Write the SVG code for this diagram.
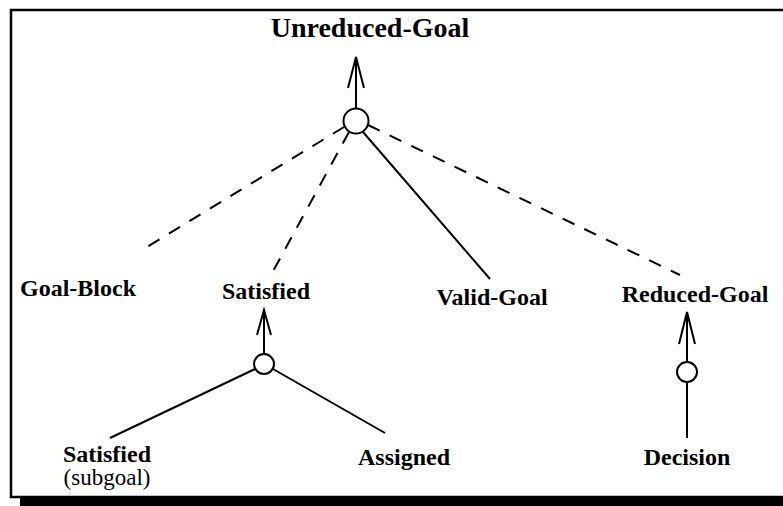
<svg xmlns="http://www.w3.org/2000/svg" width="783" height="506" viewBox="0 0 783 506">
  <style>
    .lbl { font-family: "Liberation Serif", "Times New Roman", serif; font-weight: bold; font-size: 24px; text-anchor: middle; fill: #000; }
    .title { font-size: 28px; }
    .note { font-family: "Liberation Serif", "Times New Roman", serif; font-weight: normal; font-size: 23px; text-anchor: middle; fill: #000; }
    .ln { stroke: #000; stroke-width: 2; fill: none; }
    .dash { stroke-dasharray: 13 11; }
    .node { stroke: #000; stroke-width: 2; fill: #fff; }
  </style>

  <!-- frame with drop shadow -->
  <rect x="0" y="0" width="783" height="506" fill="#fff"/>
  <rect x="20" y="498" width="770" height="10" fill="#000"/>
  <rect x="11" y="10" width="790" height="487" fill="none" stroke="#000" stroke-width="2.5"/>

  <g id="connectors">
    <!-- top junction -->
    <line class="ln" x1="356" y1="108" x2="356" y2="57"/>
    <polyline class="ln" points="348,88 356,57 364,88"/>
    <line class="ln dash" x1="344" y1="127" x2="142" y2="250"/>
    <line class="ln dash" x1="349" y1="132" x2="271" y2="275"/>
    <line class="ln" x1="363" y1="132" x2="490" y2="279"/>
    <line class="ln dash" x1="368" y1="125" x2="680" y2="275"/>

    <!-- satisfied junction -->
    <line class="ln" x1="264" y1="354" x2="264" y2="310"/>
    <polyline class="ln" points="257,335 264,310 271,335"/>
    <line class="ln" x1="255" y1="369" x2="110" y2="438"/>
    <line class="ln" x1="273" y1="369" x2="385" y2="433"/>

    <!-- reduced-goal junction -->
    <line class="ln" x1="687" y1="362" x2="687" y2="312"/>
    <polyline class="ln" points="679,344 687,312 695,344"/>
    <line class="ln" x1="687" y1="383" x2="687" y2="438"/>
  </g>

  <g id="n-unreduced-goal"><text class="lbl title" x="370" y="37">Unreduced-Goal</text></g>
  <g id="j-top"><circle class="node" cx="356" cy="121" r="12.5"/></g>
  <g id="n-goal-block"><text class="lbl" x="78" y="296">Goal-Block</text></g>
  <g id="n-satisfied"><text class="lbl" x="266" y="299">Satisfied</text></g>
  <g id="n-valid-goal"><text class="lbl" x="492" y="305">Valid-Goal</text></g>
  <g id="n-reduced-goal"><text class="lbl" x="695" y="302">Reduced-Goal</text></g>
  <g id="j-satisfied"><circle class="node" cx="264" cy="364" r="10"/></g>
  <g id="j-reduced"><circle class="node" cx="687" cy="372" r="10"/></g>
  <g id="n-satisfied-sub">
    <text class="lbl" x="107" y="462">Satisfied</text>
    <text class="note" x="107" y="485">(subgoal)</text>
  </g>
  <g id="n-assigned"><text class="lbl" x="404" y="465">Assigned</text></g>
  <g id="n-decision"><text class="lbl" x="687" y="465">Decision</text></g>
</svg>
